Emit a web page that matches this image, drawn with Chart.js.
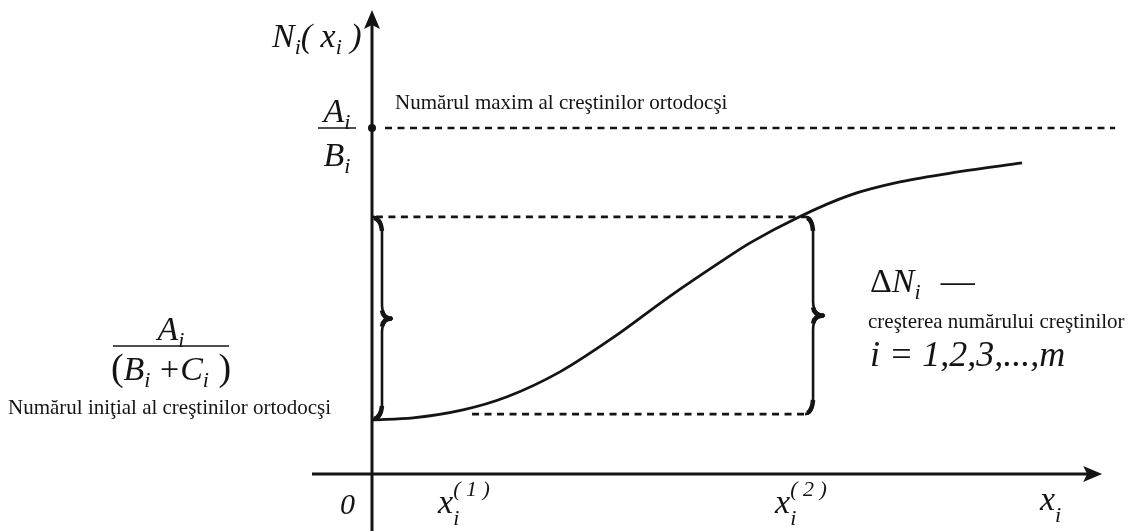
<!DOCTYPE html>
<html><head><meta charset="utf-8">
<script src="https://cdn.jsdelivr.net/npm/chart.js@4.4.1/dist/chart.umd.min.js"></script>
<style>html,body{margin:0;padding:0;background:#fff;}#wrap{width:1129px;height:531px;position:relative;}</style>
</head><body><div id="wrap"><canvas id="c" width="1129" height="531"></canvas></div>
<script>
// ---- data (x in time units, N in units of A_i/B_i) ----
const curveX = [0, 0.95, 2.10, 3.12, 4.34, 5.59, 6.86, 8.11, 8.73, 9.86, 11.04, 12.19, 13.53, 15.01];
const curveN = [0.156, 0.162, 0.185, 0.223, 0.295, 0.396, 0.512, 0.618, 0.668, 0.743, 0.806, 0.844, 0.873, 0.899];
const N_MAX = 1.0;          // A_i / B_i
const N_INIT = 0.156;       // A_i / (B_i + C_i)
const X1 = 2.31;            // x_i^(1)
const X2 = 10.0;            // x_i^(2)
const N_X1 = 0.173;         // level at x_i^(1)
const N_X2 = 0.743;         // level at x_i^(2)
const maxLineX = [0.30, 17.16];
const midLineX = [0.09, X2];
const lowLineX = [X1, X2];
// axis ranges
const X_MIN = -8.59, X_MAX = 17.48, Y_MIN = -0.165, Y_MAX = 1.37;
const X_AXIS_FROM = -1.386, X_AXIS_TIP = 16.86;
const Y_AXIS_TIP = 1.341;
const labels = {
  maxText: 'Numărul maxim al creştinilor ortodocşi',
  initText: 'Numărul iniţial al creştinilor ortodocşi',
  growthText: 'creşterea numărului creştinilor',
  indexText: 'i = 1,2,3,...,m'
};

const INK = '#141414';
const SERIF = '"Liberation Serif", "Times New Roman", serif';

function font(p){ return (p.it ? 'italic ' : '') + p.size + 'px ' + SERIF; }
function runsWidth(ctx, parts){
  let w = 0;
  for (const p of parts){ ctx.font = font(p); const m = ctx.measureText(p.t).width; if (!p.stay) w += m + (p.dx||0); }
  return w;
}
function runs(ctx, x, y, parts){
  let cx = x;
  for (const p of parts){
    ctx.font = font(p);
    const m = ctx.measureText(p.t).width;
    ctx.fillText(p.t, cx + (p.dx||0), y + (p.dy||0));
    if (!p.stay) cx += m + (p.dx||0);
  }
  return cx - x;
}
function brace(ctx, x0, yT, yB, d, t){
  const yM = (yT + yB) / 2, r = 14;
  ctx.lineWidth = 2.6;
  ctx.beginPath();
  ctx.moveTo(x0, yT);
  ctx.quadraticCurveTo(x0 + d, yT, x0 + d, yT + r);
  ctx.lineTo(x0 + d, yM - r);
  ctx.quadraticCurveTo(x0 + d, yM, x0 + t, yM);
  ctx.quadraticCurveTo(x0 + d, yM, x0 + d, yM + r);
  ctx.lineTo(x0 + d, yB - r);
  ctx.quadraticCurveTo(x0 + d, yB, x0, yB);
  ctx.stroke();
  // heavier ends and tip, like a typeset brace
  ctx.lineWidth = 4.5;
  ctx.beginPath();
  ctx.moveTo(x0 + 2, yT + 1); ctx.quadraticCurveTo(x0 + d - 1, yT + 3, x0 + d, yT + r);
  ctx.moveTo(x0 + 2, yB - 1); ctx.quadraticCurveTo(x0 + d - 1, yB - 3, x0 + d, yB - r);
  ctx.moveTo(x0 + d, yM - 8); ctx.quadraticCurveTo(x0 + d + 1, yM, x0 + t - 1, yM);
  ctx.quadraticCurveTo(x0 + d + 1, yM, x0 + d, yM + 8);
  ctx.stroke();
}

const diagram = {
  id: 'diagram',
  afterDatasetsDraw(chart){
    const ctx = chart.ctx, xs = chart.scales.x, ys = chart.scales.y;
    const X = v => xs.getPixelForValue(v), Y = v => ys.getPixelForValue(v);
    ctx.save();
    ctx.strokeStyle = INK; ctx.fillStyle = INK; ctx.lineCap = 'butt';
    // axes
    const ox = X(0), oy = Y(0);
    ctx.lineWidth = 3;
    ctx.beginPath();
    ctx.moveTo(X(X_AXIS_FROM), oy); ctx.lineTo(X(X_AXIS_TIP) - 12, oy);
    ctx.moveTo(ox, Y(Y_MIN)); ctx.lineTo(ox, Y(Y_AXIS_TIP) + 12);
    ctx.stroke();
    // arrow heads
    const tx = X(X_AXIS_TIP), ty = Y(Y_AXIS_TIP);
    ctx.beginPath();
    ctx.moveTo(tx, oy); ctx.lineTo(tx - 19, oy - 8); ctx.lineTo(tx - 15, oy); ctx.lineTo(tx - 19, oy + 8); ctx.closePath();
    ctx.fill();
    ctx.beginPath();
    ctx.moveTo(ox, ty); ctx.lineTo(ox - 8, ty + 19); ctx.lineTo(ox, ty + 15); ctx.lineTo(ox + 8, ty + 19); ctx.closePath();
    ctx.fill();
    // braces
    brace(ctx, ox, Y(N_X2), Y(N_INIT), 10, 21);
    brace(ctx, X(X2), Y(N_X2), Y(N_X1), 8, 20);

    ctx.textBaseline = 'alphabetic';
    ctx.textAlign = 'left';
    // y-axis title N_i( x_i )
    runs(ctx, 272, 47, [
      {t:'N', size:34, it:true}, {t:'i', size:22, it:true, dy:7},
      {t:'( ', size:34, it:true}, {t:'x', size:34, it:true}, {t:'i', size:22, it:true, dy:7},
      {t:' )', size:34, it:true}
    ]);
    // fraction A_i / B_i at the max level
    const yMax = Y(N_MAX), fcx = 337;
    const partA = [{t:'A', size:34, it:true}, {t:'i', size:22, it:true, dy:7}];
    const partB = [{t:'B', size:34, it:true}, {t:'i', size:22, it:true, dy:7}];
    runs(ctx, fcx - runsWidth(ctx, partA)/2, yMax - 6, partA);
    runs(ctx, fcx - runsWidth(ctx, partB)/2, yMax + 38, partB);
    ctx.lineWidth = 1.6;
    ctx.beginPath(); ctx.moveTo(318, yMax); ctx.lineTo(356, yMax); ctx.stroke();
    // dot at the max level on the axis
    ctx.beginPath(); ctx.arc(ox, yMax, 4, 0, Math.PI*2); ctx.fill();

    ctx.font = '21px ' + SERIF;
    ctx.fillText(labels.maxText, 395, 109);

    // fraction A_i / (B_i + C_i)
    const lcx = 171, lineY = 346;
    const partA2 = [{t:'A', size:34, it:true}, {t:'i', size:22, it:true, dy:7}];
    const partD = [
      {t:'(', size:38}, {t:'B', size:34, it:true}, {t:'i', size:22, it:true, dy:7},
      {t:' +', size:34, dx:1}, {t:'C', size:34, it:true, dx:1}, {t:'i', size:22, it:true, dy:7}, {t:' )', size:38}
    ];
    runs(ctx, lcx - runsWidth(ctx, partA2)/2, 340, partA2);
    runs(ctx, lcx - runsWidth(ctx, partD)/2, 380, partD);
    ctx.lineWidth = 1.6;
    ctx.beginPath(); ctx.moveTo(113, lineY); ctx.lineTo(229, lineY); ctx.stroke();
    ctx.font = '21px ' + SERIF;
    ctx.fillText(labels.initText, 8, 414);

    // right annotation
    runs(ctx, 870, 292, [
      {t:'Δ', size:34}, {t:'N', size:34, it:true}, {t:'i', size:22, it:true, dy:7},
      {t:'—', size:34, dx:20}
    ]);
    ctx.font = '21px ' + SERIF;
    ctx.fillText(labels.growthText, 868, 328);
    runs(ctx, 870, 366, [{t:labels.indexText, size:36, it:true}]);

    // x-axis labels
    runs(ctx, 340, 514, [{t:'0', size:30, it:true}]);
    const xl = (x, y, sup) => runs(ctx, x, y, [
      {t:'x', size:34, it:true},
      {t:'i', size:22, it:true, dy:12, stay:true},
      {t:sup, size:22, it:true, dy:-17}
    ]);
    xl(X(X1) - 34, 513, '( 1 )');
    xl(X(X2) - 30, 513, '( 2 )');
    runs(ctx, 1040, 510, [{t:'x', size:34, it:true}, {t:'i', size:22, it:true, dy:12}]);
    ctx.restore();
  }
};

const line = (xs, n, dash) => ({
  data: xs.map(x => ({x, y: n})), showLine: true, borderColor: INK, borderWidth: 2.6,
  borderDash: dash, pointRadius: 0, fill: false
});

new Chart(document.getElementById('c').getContext('2d'), {
  type: 'scatter',
  data: { datasets: [
    { data: curveX.map((x, i) => ({x, y: curveN[i]})), showLine: true, borderColor: INK, borderWidth: 2.8,
      pointRadius: 0, fill: false, cubicInterpolationMode: 'monotone' },
    line(maxLineX, N_MAX, [7, 5.5]),
    line(midLineX, N_X2, [7, 5.5]),
    line(lowLineX, N_X1, [7, 5.5])
  ]},
  options: {
    responsive: false, animation: false, devicePixelRatio: 1, events: [],
    layout: { padding: 0 },
    plugins: { legend: { display: false }, tooltip: { enabled: false }, title: { display: false } },
    scales: {
      x: { type: 'linear', min: X_MIN, max: X_MAX, display: false },
      y: { type: 'linear', min: Y_MIN, max: Y_MAX, display: false }
    }
  },
  plugins: [diagram]
});
</script></body></html>
